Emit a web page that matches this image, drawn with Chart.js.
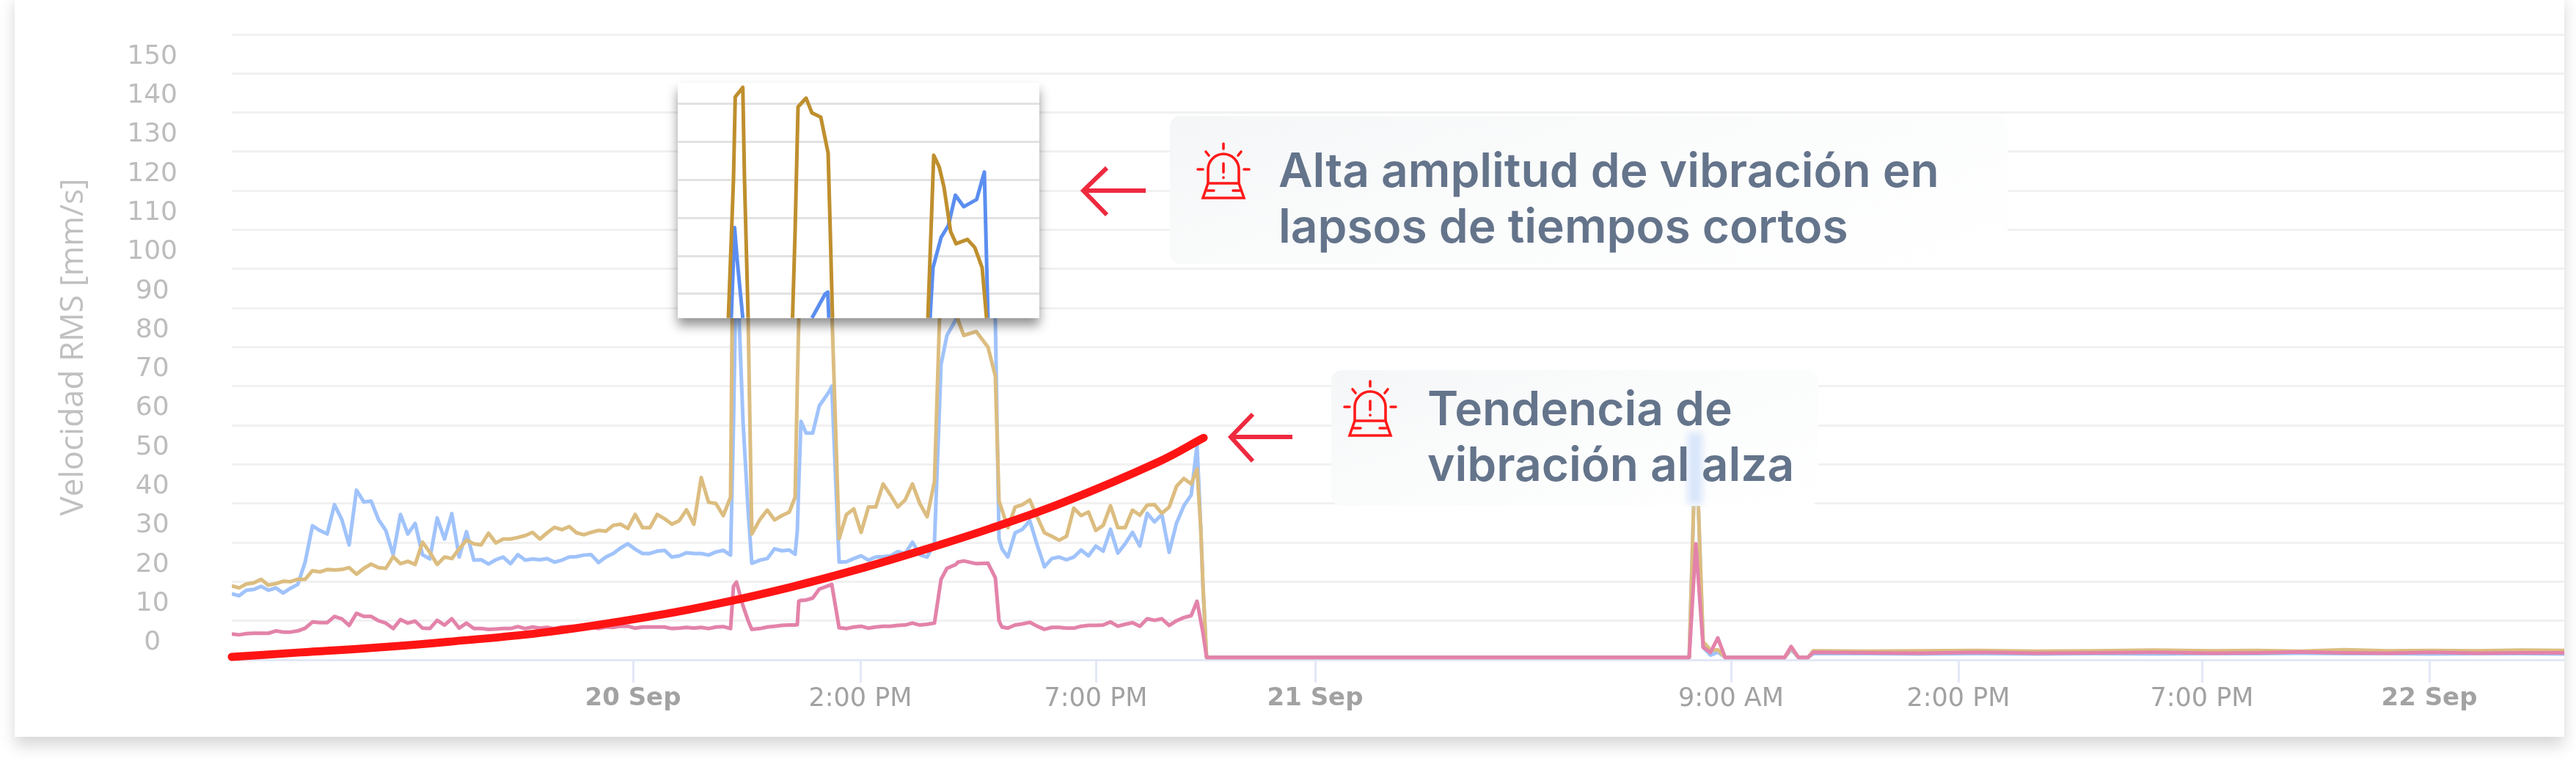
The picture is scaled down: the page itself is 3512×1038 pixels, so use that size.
<!DOCTYPE html>
<html lang="es">
<head>
<meta charset="utf-8">
<title>Velocidad RMS</title>
<script src="https://cdn.jsdelivr.net/npm/chart.js@4/dist/chart.umd.min.js"></script>
<style>
    html, body { margin: 0; padding: 0; width: 3512px; height: 1038px; background: #fff; overflow: hidden; }
    .card { position: absolute; left: 20px; top: -10px; width: 3476px; height: 1015px; background: #fff; box-shadow: 0 12px 20px rgba(0, 0, 0, .16); }
    #mainChart { position: absolute; left: 0; top: 0; filter: blur(.7px); }
    .inset { position: absolute; left: 924px; top: 113px; width: 493px; height: 321px; background: #fff; box-shadow: 0 10px 14px rgba(0, 0, 0, .42); }
    .note { position: absolute; background: linear-gradient(160deg, #f5f6f7 0%, #fbfcfc 50%, #fff 100%); border-radius: 14px; }
    .note p { position: absolute; margin: 0; font: 600 64px/76px Inter, sans-serif; color: #64748b; white-space: nowrap; }
    .smear { position: absolute; width: 20px; height: 98px; background: #d8e6fb; filter: blur(5px); }
    svg.marks { position: absolute; left: 0; top: 0; }
</style>
</head>
<body>
<div class="card"></div>
<canvas id="mainChart" width="3512" height="1038"></canvas>
<div class="inset"><canvas id="insetChart" width="493" height="321"></canvas></div>

<div class="note" style="left:1595px;top:158px;width:1142px;height:202px">
    <p style="left:148px;top:36px">Alta amplitud de vibración en<br>lapsos de tiempos cortos</p>
</div>
<div class="note" style="left:1815px;top:505px;width:664px;height:185px">
    <div class="smear" style="left:486px;top:85px"></div>
    <p style="left:131px;top:14px">Tendencia de<br>vibración al alza</p>
</div>

<svg class="marks" width="3512" height="1038" fill="none" stroke-linecap="round">
    <defs>
        <g id="alarm" stroke="#ff1a1a" stroke-width="3.6">
            <path d="M17 60 V41 a21 21 0 0 1 42 0 V60"/>
            <path d="M17 60 H59 L66 80 H10 Z"/>
            <path d="M16 70 H25 M51 70 H60"/>
            <path d="M38 33 V45 M38 52 V52.5"/>
            <path d="M38 6 V13 M14 17 L18 22 M62 17 L58 22 M3 41 H10 M66 41 H73"/>
        </g>
    </defs>
    <use href="#alarm" x="1630" y="190"/>
    <use href="#alarm" x="1830" y="514"/>
    <g stroke="#ee2a3f" stroke-width="6" stroke-linecap="butt">
        <path d="M1509 229 L1477 260 L1509 293 M1477 260 H1562"/>
        <path d="M1708 565 L1678 596 L1708 629 M1678 596 H1762"/>
    </g>
</svg>

<script>
// x is minutes from the left edge of the window, y is mm/s RMS
const minutes = [
    0, 10, 20, 30, 40, 50, 60, 70, 80, 90, 100, 110, 120, 130, 140, 150, 160, 170, 180, 190,
    200, 210, 220, 230, 240, 250, 260, 270, 280, 290, 300, 310, 320, 330, 340, 350, 360, 370, 380, 390,
    400, 410, 420, 430, 440, 450, 460, 470, 480, 490, 500, 510, 520, 530, 540, 550, 560, 570, 580, 590,
    600, 610, 620, 630, 640, 650, 660, 670, 680, 684, 688, 697, 704, 709, 720, 730, 740, 750, 760, 768,
    771, 773, 776, 783, 792, 801, 814, 818, 828, 838, 848, 858, 868, 878, 888, 898, 908, 918, 928, 938,
    948, 958, 967, 975, 987, 990, 998, 1015, 1031, 1041, 1046, 1050, 1058, 1068, 1078, 1088, 1098, 1108, 1118, 1128,
    1138, 1148, 1158, 1168, 1178, 1188, 1198, 1208, 1218, 1228, 1238, 1248, 1258, 1268, 1278, 1288, 1298, 1308, 1316, 1321,
    1324, 1329, 1700, 1987, 1996, 2006, 2016, 2026, 2036, 2117, 2126, 2136, 2149, 2156, 2230, 2300, 2380, 2460, 2540, 2620,
    2700, 2760, 2820, 2880, 2940, 3000, 3060, 3120, 3180
];

const blueValues = [
    16.9, 16.4, 17.8, 18.0, 18.8, 17.8, 18.4, 17.1, 18.3, 19.3, 25.0, 34.3, 33.1, 32.2, 39.7, 35.9, 29.4, 43.4, 40.4, 40.6,
    35.9, 33.1, 26.9, 37.2, 32.2, 34.9, 26.9, 25.8, 36.3, 30.9, 37.4, 26.3, 32.8, 25.5, 25.6, 24.5, 25.6, 26.3, 24.6, 26.9,
    25.5, 25.8, 25.6, 25.9, 25.0, 25.5, 26.3, 26.4, 26.8, 26.9, 24.9, 26.3, 27.2, 28.6, 29.7, 28.3, 27.2, 27.2, 27.8, 28.0,
    26.3, 26.6, 27.4, 27.2, 27.2, 26.8, 27.6, 28.0, 26.8, 60, 105, 61, 38, 24.7, 25.5, 25.9, 28.4, 27.9, 28.1, 27.0,
    33, 45, 61, 58, 58, 65, 68.5, 70, 25, 25.1, 25.9, 26.6, 25.5, 26.3, 26.4, 26.6, 27.7, 27.2, 30.1, 26.9,
    26.3, 30.0, 75.6, 83, 87, 90, 95, 92, 100, 87, 31, 28.4, 26.3, 32.5, 33.4, 35.6, 29.4, 23.8, 25.9, 26.3,
    25.6, 26.3, 28.1, 26.6, 29.1, 27.8, 33.4, 27.3, 29.7, 32.6, 29.1, 37.5, 35.3, 37.2, 27.5, 35.0, 39.4, 42.2, 55, 34,
    19, 0.6, 0.6, 0.6, 58, 3.2, 1.2, 2.0, 0.6, 0.6, 2.6, 0.6, 0.6, 1.6, 1.6, 1.5, 1.6, 1.5, 1.6, 1.5,
    1.6, 1.6, 1.7, 1.6, 1.6, 1.5, 1.6, 1.6, 1.5
];

const goldValues = [
    18.9, 18.4, 19.4, 19.7, 20.6, 19.1, 19.5, 20.1, 20.0, 20.6, 20.6, 22.8, 22.5, 23.1, 23.0, 23.1, 23.6, 21.9, 23.4, 24.5,
    23.6, 23.4, 26.4, 24.6, 25.2, 24.4, 30.1, 27.5, 24.4, 26.3, 25.9, 28.4, 30.6, 29.7, 29.4, 32.4, 29.9, 30.9, 30.9, 31.3,
    31.8, 32.6, 30.9, 32.5, 33.9, 33.3, 34.1, 32.5, 32.0, 32.6, 33.1, 32.9, 34.4, 34.7, 33.6, 37.2, 33.8, 33.8, 37.2, 36.1,
    34.7, 35.6, 38.4, 34.7, 46.6, 40.3, 40.0, 36.9, 41.6, 125, 142, 143, 87, 32.2, 35.9, 38.3, 35.8, 36.9, 37.8, 41.6,
    70, 87, 135, 143, 132, 131, 113, 90, 31, 37.2, 38.6, 32.6, 39.1, 39.1, 45.0, 42.2, 39.1, 40.9, 45.0, 40.0,
    36.6, 45.6, 100, 129, 95, 87, 83, 84, 80, 72.6, 40.7, 38.4, 33.8, 39.1, 39.7, 40.9, 36.6, 32.5, 31.6, 30.6,
    31.6, 38.8, 36.9, 37.8, 33.1, 34.4, 39.4, 33.8, 33.8, 38.3, 37.0, 39.6, 39.7, 37.5, 39.1, 44.4, 46.4, 45.0, 48.8, 33.8,
    19.4, 0.6, 0.6, 0.6, 58, 4.6, 2.5, 2.6, 0.6, 0.6, 3.0, 0.6, 0.6, 2.3, 2.2, 2.3, 2.4, 2.2, 2.3, 2.5,
    2.3, 2.4, 2.2, 2.6, 2.3, 2.4, 2.3, 2.5, 2.4
];

const pinkValues = [
    6.6, 6.4, 6.7, 6.8, 6.8, 6.8, 7.4, 7.1, 7.1, 7.4, 8.1, 9.7, 9.5, 9.5, 11.1, 10.5, 8.8, 11.9, 11.1, 11.1,
    10.0, 9.4, 8.0, 10.3, 9.4, 9.9, 8.1, 8.0, 10.1, 8.9, 10.5, 8.1, 9.4, 8.0, 8.0, 7.8, 7.9, 8.0, 8.0, 8.5,
    8.0, 8.4, 8.1, 8.3, 8.0, 8.4, 8.5, 8.4, 8.3, 8.4, 8.0, 8.4, 8.3, 8.6, 8.6, 8.1, 8.4, 8.4, 8.4, 8.4,
    8.0, 8.1, 8.3, 8.1, 8.3, 8.0, 8.4, 8.5, 8.0, 18.8, 19.9, 13.8, 10, 7.8, 8.0, 8.4, 8.6, 8.8, 8.9, 8.9,
    9, 15, 15.2, 15.3, 15.8, 18.1, 19, 19.3, 8.2, 8.0, 8.4, 8.6, 8.1, 8.4, 8.6, 8.6, 8.8, 8.9, 9.4, 8.9,
    9.1, 9.4, 20.6, 23.4, 24.4, 25, 25.3, 24.6, 24.7, 21, 10, 8.4, 8.1, 8.9, 9.2, 9.6, 8.6, 7.8, 8.3, 8.3,
    8.1, 8.1, 8.6, 8.8, 8.8, 8.9, 9.7, 8.6, 9.1, 9.5, 8.6, 10.5, 10.1, 10.5, 8.8, 10.0, 10.8, 11.3, 15, 10,
    7, 0.6, 0.6, 0.6, 29.7, 3.2, 1.9, 5.6, 0.6, 0.6, 3.4, 0.6, 0.6, 1.9, 1.8, 1.7, 1.9, 1.7, 1.8, 1.9,
    1.7, 1.8, 2.0, 1.8, 1.7, 1.9, 1.7, 1.8, 1.8
];

const trendMinutes = [0, 94, 194, 294, 434, 584, 664, 764, 864, 934, 1034, 1134, 1264, 1325];
const trendValues = [0.75, 1.9, 3.1, 4.6, 7.2, 11.5, 14.4, 18.7, 23.7, 27.6, 33.6, 40.3, 50.7, 56.8];

const xTickMinutes = [547, 857, 1178, 1477, 2044, 2354, 2686, 2996];
const xTickLabels = ["20 Sep", "2:00 PM", "7:00 PM", "21 Sep", "9:00 AM", "2:00 PM", "7:00 PM", "22 Sep"];
const yTickLabels = [0, 10, 20, 30, 40, 50, 60, 70, 80, 90, 100, 110, 120, 130, 140, 150];

// zoomed inset, null breaks the line between bursts
const insetGoldMinutes = [677, 684, 686.4, 696.7, 699, 704, 730, 764.5, 768, 772, 783, 791, 803, 813, 815.5, 819, 880, 949, 957, 964.5, 971, 980, 987.5, 1003, 1013, 1023, 1029];
const insetGoldValues = [93.7, 130.1, 151.7, 154.2, 130.1, 93.7, null, 93.7, 116.4, 149.1, 151.4, 147.5, 146.4, 137, 119.6, 93.7, null, 93.7, 136.4, 133.3, 128, 116.4, 113.2, 114.3, 112.2, 106.9, 93.7];
const insetBlueMinutes = [681, 685.5, 689, 696.7, 740, 791, 809, 812.5, 814, 880, 952, 956, 967, 977, 986.5, 998, 1015.5, 1026, 1031];
const insetBlueValues = [93.7, 117.4, 109, 93.7, null, 93.7, 100, 100.5, 93.7, null, 93.7, 106.9, 114.8, 118, 125.9, 122.9, 124.8, 132, 93.7];
const insetTicks = [100, 110, 120, 130, 140, 150];

const toPoints = (xs, ys) => xs.map((x, i) => ({ x: x, y: ys[i] }));

const lineSet = (label, xs, ys, color, width) => ({
    label: label,
    data: toPoints(xs, ys),
    borderColor: color,
    borderWidth: width,
    pointRadius: 0,
    tension: 0,
    borderJoinStyle: "round",
    spanGaps: false
});

const trendSet = lineSet("Tendencia", trendMinutes, trendValues, "#ff1414", 11);
trendSet.tension = 0.4;
trendSet.borderCapStyle = "round";
trendSet.clip = false;

new Chart(document.getElementById("mainChart"), {
    type: "line",
    data: {
        datasets: [
            trendSet,
            lineSet("Z", minutes, pinkValues, "#e383aa", 5),
            lineSet("X", minutes, goldValues, "#dcbd80", 5),
            lineSet("Y", minutes, blueValues, "#a0c3fb", 5)
        ]
    },
    options: {
        responsive: false,
        animation: false,
        parsing: false,
        normalized: true,
        layout: { padding: { left: 74, top: 47, right: 16, bottom: 0 } },
        plugins: { legend: { display: false }, tooltip: { enabled: false } },
        scales: {
            x: {
                type: "linear",
                min: 0,
                max: 3180,
                afterBuildTicks: (axis) => { axis.ticks = xTickMinutes.map(v => ({ value: v })); },
                afterFit: (axis) => {
                    axis.height = 138;
                    axis.paddingLeft = 0;
                    axis.paddingRight = 0;
                },
                border: { color: "#e2e8f6", width: 3 },
                grid: { drawOnChartArea: false, drawTicks: true, tickLength: 31, tickColor: "#e2e8f6", tickWidth: 3 },
                ticks: {
                    autoSkip: false,
                    maxRotation: 0,
                    padding: 2,
                    color: "#a2a2a2",
                    font: (ctx) => {
                        const isDate = ctx.index === 0 || ctx.index === 3 || ctx.index === 7;
                        return { family: "'DejaVu Sans'", size: isDate ? 34 : 35, weight: isDate ? "bold" : "normal" };
                    },
                    callback: (value) => xTickLabels[xTickMinutes.indexOf(value)]
                }
            },
            y: {
                min: 0,
                max: 160,
                afterFit: (axis) => {
                    axis.width = 242;
                    axis.paddingTop = 0;
                    axis.paddingBottom = 0;
                },
                border: { display: false },
                grid: { color: "#f1f1f1", lineWidth: 3, drawTicks: false },
                title: {
                    display: true,
                    text: "Velocidad RMS [mm/s]",
                    color: "#c0c0c0",
                    font: { family: "'Open Sans'", size: 44 },
                    padding: { top: 0, bottom: 0 }
                },
                ticks: {
                    stepSize: 10,
                    autoSkip: false,
                    crossAlign: "center",
                    padding: 74,
                    labelOffset: -23,
                    color: "#bdbdbd",
                    font: { family: "'DejaVu Sans'", size: 36 },
                    callback: (value) => yTickLabels.includes(value) ? String(value) : ""
                }
            }
        }
    }
});

new Chart(document.getElementById("insetChart"), {
    type: "line",
    data: {
        datasets: [
            lineSet("X", insetGoldMinutes, insetGoldValues, "#bf8f2e", 5),
            lineSet("Y", insetBlueMinutes, insetBlueValues, "#5b8ef0", 5)
        ]
    },
    options: {
        responsive: false,
        animation: false,
        parsing: false,
        plugins: { legend: { display: false }, tooltip: { enabled: false } },
        scales: {
            x: { type: "linear", display: false, min: 608, max: 1101 },
            y: {
                min: 93.65,
                max: 155.4,
                afterBuildTicks: (axis) => { axis.ticks = insetTicks.map(v => ({ value: v })); },
                afterFit: (axis) => { axis.width = 0; },
                border: { display: false },
                grid: { color: "#e2e2e2", lineWidth: 3, drawTicks: false },
                ticks: { display: false }
            }
        }
    }
});
</script>
</body>
</html>
